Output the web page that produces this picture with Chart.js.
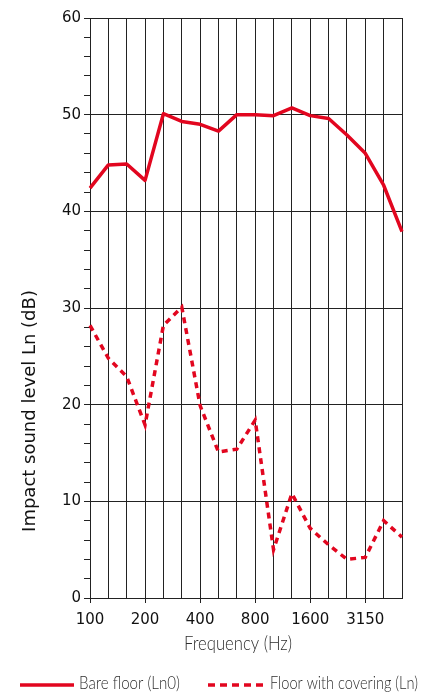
<!DOCTYPE html>
<html>
<head>
<meta charset="utf-8">
<script src="https://cdn.jsdelivr.net/npm/chart.js@4/dist/chart.umd.min.js"></script>
<style>
  html, body { margin: 0; padding: 0; background: #fff; }
  #wrap { width: 435px; height: 693px; position: relative; }
</style>
</head>
<body>
<div id="wrap"><canvas id="c" width="435" height="693"></canvas></div>
<script>
const categories = ['100','125','160','200','250','315','400','500','630','800','1000','1250','1600','2000','2500','3150','4000','5000'];
const bareFloor = [42.4,44.8,44.9,43.2,50.1,49.3,49.0,48.3,50.0,50.0,49.9,50.7,49.9,49.6,47.9,46.0,42.7,37.9];
const withCovering = [28.2,24.8,22.9,17.9,28.2,30.1,19.9,15.1,15.4,18.4,5.0,10.8,7.2,5.5,4.0,4.2,8.0,6.3];
const xTickLabels = ['100','200','400','800','1600','3150'];
const yTitle = 'Impact sound level Ln (dB)';
const xTitle = 'Frequency (Hz)';
const seriesNames = ['Bare floor (Ln0)', 'Floor with covering (Ln)'];

const RED = '#e2061f';
const light = "Lato, 'Noto Sans', sans-serif";

// draw text squeezed horizontally to a target width (keeps it real text)
function fitText(ctx, text, x, y, targetW, align) {
  const w = ctx.measureText(text).width;
  const s = Math.min(1.15, targetW / w);
  ctx.save();
  ctx.translate(x, y);
  ctx.scale(s, 1);
  ctx.textAlign = align;
  ctx.fillText(text, 0, 0);
  ctx.restore();
}

const annotPlugin = {
  id: 'annot',
  afterDraw(chart) {
    const ctx = chart.ctx;
    // y title
    ctx.save();
    ctx.translate(30, 411);
    ctx.rotate(-Math.PI / 2);
    ctx.font = "18px 'DejaVu Sans'";
    ctx.fillStyle = '#111';
    ctx.textAlign = 'center';
    ctx.textBaseline = 'middle';
    ctx.fillText(yTitle, 0, 0);
    ctx.restore();

    // x title
    ctx.save();
    ctx.font = '300 20px ' + light;
    ctx.fillStyle = '#2e2e2e';
    ctx.textBaseline = 'middle';
    fitText(ctx, xTitle, 238, 644, 108, 'center');
    ctx.restore();

    // legend
    const ds = chart.data.datasets;
    ctx.save();
    ctx.strokeStyle = ds[0].borderColor;
    ctx.lineWidth = ds[0].borderWidth;
    ctx.beginPath(); ctx.moveTo(20, 685); ctx.lineTo(74, 685); ctx.stroke();
    ctx.strokeStyle = ds[1].borderColor;
    ctx.lineWidth = ds[1].borderWidth;
    ctx.setLineDash([7, 5]);
    ctx.beginPath(); ctx.moveTo(208, 685); ctx.lineTo(264, 685); ctx.stroke();
    ctx.setLineDash([]);
    ctx.font = '300 17px ' + light;
    ctx.fillStyle = '#2e2e2e';
    ctx.textBaseline = 'middle';
    fitText(ctx, ds[0].label, 79, 684, 101, 'left');
    fitText(ctx, ds[1].label, 270, 684, 148, 'left');
    ctx.restore();
  }
};

new Chart(document.getElementById('c'), {
  type: 'line',
  data: {
    labels: categories,
    datasets: [
      { label: seriesNames[0], data: bareFloor, borderColor: RED, backgroundColor: RED,
        borderWidth: 3.5, pointRadius: 0, tension: 0, borderJoinStyle: 'round' },
      { label: seriesNames[1], data: withCovering, borderColor: RED, backgroundColor: RED,
        borderWidth: 3.5, borderDash: [6, 5], pointRadius: 0, tension: 0 }
    ]
  },
  options: {
    responsive: false,
    animation: false,
    events: [],
    layout: { padding: { left: 0, right: 0, top: 18, bottom: 0 } },
    plugins: {
      tooltip: { enabled: false },
      legend: { display: false }
    },
    scales: {
      x: {
        type: 'category',
        offset: false,
        afterFit(s) { s.height = 95; s.paddingRight = 33; },
        grid: {
          offset: false,
          color: '#222',
          lineWidth: 1,
          tickLength: 5,
          tickColor: (c) => (c.index % 3 === 0 ? '#222' : 'rgba(0,0,0,0)')
        },
        border: { color: '#222', width: 1 },
        ticks: {
          autoSkip: false,
          maxRotation: 0,
          padding: 8,
          color: '#111',
          font: { family: "'DejaVu Sans'", size: 15 },
          callback: (v, i) => (i % 3 === 0 ? xTickLabels[i / 3] : '')
        },
        title: { display: false }
      },
      y: {
        min: 0,
        max: 60,
        afterFit(s) { s.width = 90; },
        grid: {
          color: (c) => (c.tick && c.tick.value % 10 === 0 ? '#222' : 'rgba(0,0,0,0)'),
          lineWidth: 1,
          tickLength: 6,
          tickColor: '#222'
        },
        border: { color: '#222', width: 1 },
        ticks: {
          stepSize: 2,
          autoSkip: false,
          maxTicksLimit: 40,
          padding: 3,
          color: '#111',
          font: { family: "'DejaVu Sans'", size: 15 },
          callback: (v) => (v % 10 === 0 ? String(v) : '')
        }
      }
    }
  },
  plugins: [annotPlugin]
});
</script>
</body>
</html>
